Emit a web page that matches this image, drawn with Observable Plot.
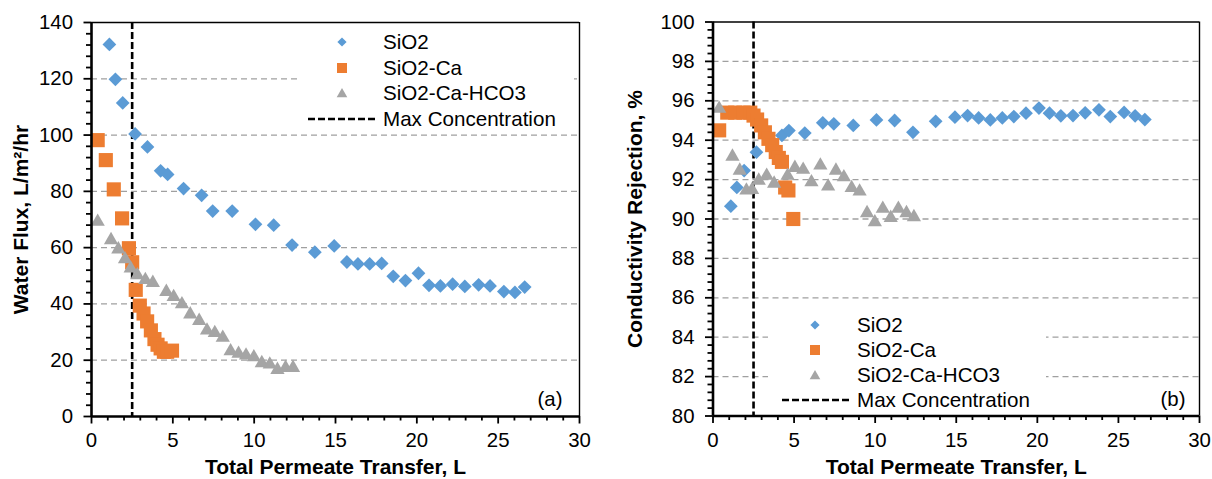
<!DOCTYPE html>
<html><head><meta charset="utf-8">
<script src="https://cdn.jsdelivr.net/npm/d3@7"></script>
<script src="https://cdn.jsdelivr.net/npm/@observablehq/plot@0.6"></script>
<style>
body{margin:0;background:#fff;font-family:"Liberation Sans",Arial,sans-serif;}
#wrap{position:relative;width:1212px;height:479px;overflow:hidden;background:#fff;}
.panel{position:absolute;top:0;}
.legend{position:absolute;background:#fff;font-size:20.6px;color:#000;}
.legend .row{position:absolute;height:26px;line-height:26px;white-space:nowrap;}
.legend svg{position:absolute;overflow:visible;}
</style></head><body><div id="wrap"></div>
<script>
// ---- data ----
const seriesNames = ["SiO2", "SiO2-Ca", "SiO2-Ca-HCO3"];
const seriesColors = ["#5B9BD5", "#ED7D31", "#A5A5A5"];
const lineName = "Max Concentration";
const maxConcentration = 2.5;

const xSiO2 = [1.1, 1.47, 1.92, 2.68, 3.44, 4.25, 4.68, 5.66, 6.77, 7.45, 8.65, 10.08, 11.2, 12.33, 13.73, 14.92, 15.7, 16.38, 17.1, 17.84, 18.55, 19.3, 20.1, 20.75, 21.45, 22.2, 22.95, 23.8, 24.5, 25.35, 26.03, 26.63];
const fluxSiO2 = [132.2, 119.8, 111.4, 100.4, 95.8, 87.3, 86.0, 81.0, 78.6, 73.0, 73.0, 68.3, 68.0, 60.9, 58.4, 60.6, 54.9, 54.2, 54.2, 54.4, 49.8, 48.3, 50.9, 46.6, 46.4, 47.0, 46.2, 46.8, 46.4, 44.4, 44.1, 46.0];
const rejSiO2 = [90.65, 91.6, 92.46, 93.39, 94.0, 94.24, 94.49, 94.36, 94.88, 94.83, 94.75, 95.03, 95.0, 94.4, 94.96, 95.17, 95.25, 95.13, 95.03, 95.13, 95.2, 95.37, 95.63, 95.37, 95.24, 95.25, 95.39, 95.54, 95.2, 95.41, 95.24, 95.05];

const xCa = [0.38, 0.88, 1.37, 1.88, 2.3, 2.5, 2.72, 2.97, 3.2, 3.42, 3.65, 3.87, 4.06, 4.25, 4.45, 4.65, 4.95];
const fluxCa = [98.2, 91.1, 80.7, 70.4, 59.8, 54.8, 45.0, 39.4, 36.6, 33.8, 30.6, 27.5, 25.5, 24.2, 23.0, 23.0, 23.4];
const rejCa = [94.5, 95.4, 95.4, 95.4, 95.4, 95.25, 95.05, 94.75, 94.4, 94.07, 93.75, 93.4, 93.1, 92.9, 91.6, 91.45, 90.0];

const xHCO3 = [0.38, 1.2, 1.65, 2.06, 2.41, 2.82, 3.31, 3.77, 4.6, 5.05, 5.56, 6.07, 6.62, 7.1, 7.58, 8.07, 8.55, 9.04, 9.5, 9.98, 10.47, 10.96, 11.43, 11.93, 12.39];
const fluxHCO3 = [69.2, 62.7, 59.4, 55.9, 52.6, 50.2, 48.5, 47.5, 44.3, 42.5, 39.9, 36.3, 34.0, 30.6, 29.7, 28.0, 23.2, 22.3, 21.7, 21.1, 19.0, 18.5, 16.6, 17.3, 17.3];
const rejHCO3 = [95.6, 93.17, 92.46, 91.45, 91.48, 91.95, 92.2, 91.8, 92.2, 92.6, 92.5, 91.87, 92.72, 91.65, 92.46, 92.12, 91.58, 91.4, 90.3, 89.84, 90.52, 90.06, 90.52, 90.3, 90.1];

const xTicks = [0, 5, 10, 15, 20, 25, 30];
const fluxTicks = [0, 20, 40, 60, 80, 100, 120, 140];
const rejTicks = [80, 82, 84, 86, 88, 90, 92, 94, 96, 98, 100];
const xTitle = "Total Permeate Transfer, L";
const fluxTitle = "Water Flux, L/m²/hr";
const rejTitle = "Conductivity Rejection, %";

// ---- build ----
const symbols = ["diamond2", "square2", "triangle2"];
const radii = [6.2, 9.0, 6.8];
const xs = [xSiO2, xCa, xHCO3];

function rows(ys) {
  return ys.map((arr, s) => arr.map((v, i) => ({x: xs[s][i], y: v, s}))).flat();
}

function panel(o) {
  const [y0, y1] = o.yDomain;
  const yMinor = d3.range(y0, y1 + 1e-9, o.yMinorStep).filter(v => !o.yTicks.some(t => Math.abs(t - v) < 1e-9));
  const xMinor = d3.range(0, 31, 1).filter(v => v % 5 !== 0);
  const data = rows(o.ys);
  const dots = [0, 1, 2].map(s => Plot.dot(data.filter(d => d.s === s), {
    x: "x", y: "y", symbol: () => symbols[s], r: radii[s], fill: seriesColors[s], stroke: "none"
  }));
  const ax = {stroke: "#000", strokeWidth: 1.8};
  return Plot.plot({
    width: 606, height: 479,
    marginLeft: o.m[0], marginRight: o.m[1], marginTop: o.m[2], marginBottom: o.m[3],
    x: {domain: [0, 30], label: null},
    y: {domain: o.yDomain, label: null},
    symbol: {type: "identity"},
    style: {fontFamily: "'Liberation Sans', Arial, sans-serif", fontSize: "20px", color: "#000", background: "transparent", overflow: "visible"},
    marks: [
      Plot.gridY(o.yGrid, {stroke: "#a0a0a0", strokeOpacity: 1, strokeWidth: 1.3, strokeDasharray: "6,4"}),
      Plot.ruleX([30], {stroke: "#000", strokeWidth: 1.4}),
      Plot.ruleY([y1], {stroke: "#000", strokeWidth: 1.4}),
      Plot.ruleX([maxConcentration], {stroke: "#000", strokeWidth: 2.6, strokeDasharray: "7,3"}),
      ...dots,
      Plot.axisX({ticks: xMinor, tickSize: 4.5, tickFormat: () => "", ...ax}),
      Plot.axisX({ticks: xTicks, tickSize: 7.5, tickPadding: 9, fontSize: 20.4, ...ax}),
      Plot.axisY({ticks: yMinor, tickSize: 5, tickFormat: () => "", ...ax}),
      Plot.axisY({ticks: o.yTicks, tickSize: 7.5, tickPadding: 11, fontSize: 20.4, tickFormat: d3.format("d"), ...ax}),
      Plot.ruleX([0], {stroke: "#000", strokeWidth: 2.6}),
      Plot.ruleY([y0], {stroke: "#000", strokeWidth: 2.6}),
      Plot.text([xTitle], {text: d => d, frameAnchor: "bottom", dy: 51, textAnchor: "middle", lineAnchor: "middle", fontWeight: "bold", fontSize: 21}),
      Plot.text([o.yTitle], {text: d => d, frameAnchor: "left", rotate: -90, dx: o.yTitleDx, textAnchor: "middle", lineAnchor: "middle", fontWeight: "bold", fontSize: 21}),
      Plot.text([o.tag], {text: d => d, frameAnchor: "bottom-right", dx: o.tagDx, dy: -17, textAnchor: "end", lineAnchor: "middle", fontSize: 20.4})
    ]
  });
}

function legend(box) {
  const div = document.createElement("div");
  div.className = "legend";
  Object.assign(div.style, {left: box.left + "px", top: box.top + "px", width: box.w + "px", height: box.h + "px"});
  const shapes = [
    c => `<polygon points="0,-4.6 4.6,0 0,4.6 -4.6,0" fill="${c}"/>`,
    c => `<rect x="-5" y="-5" width="10" height="10" fill="${c}"/>`,
    c => `<polygon points="0,-5 5.3,4.3 -5.3,4.3" fill="${c}"/>`
  ];
  seriesNames.forEach((name, i) => {
    const cy = box.rows[i];
    div.insertAdjacentHTML("beforeend",
      `<svg width="1" height="1" style="left:${box.sym}px;top:${cy}px">${shapes[i](seriesColors[i])}</svg>` +
      `<div class="row" style="left:${box.text}px;top:${cy - 13}px">${name}</div>`);
  });
  const cy = box.rows[3];
  div.insertAdjacentHTML("beforeend",
    `<svg width="1" height="1" style="left:0;top:${cy}px"><line x1="${box.dash[0]}" x2="${box.dash[1]}" y1="0" y2="0" stroke="#000" stroke-width="2.4" stroke-dasharray="7,3"/></svg>` +
    `<div class="row" style="left:${box.text}px;top:${cy - 13}px">${lineName}</div>`);
  return div;
}

const wrap = document.getElementById("wrap");
const left = panel({
  ys: [fluxSiO2, fluxCa, fluxHCO3], yDomain: [0, 140], yTicks: fluxTicks, yMinorStep: 4,
  yGrid: fluxTicks.slice(1, -1), m: [91, 27, 22, 63], yTitle: fluxTitle, yTitleDx: -70, tag: "(a)", tagDx: -17
});
left.classList.add("panel"); left.style.left = "0px";
const right = panel({
  ys: [rejSiO2, rejCa, rejHCO3], yDomain: [80, 100], yTicks: rejTicks, yMinorStep: 0.4,
  yGrid: rejTicks.slice(1, -1), m: [106.5, 13, 21.5, 63.5], yTitle: rejTitle, yTitleDx: -77.5, tag: "(b)", tagDx: -14
});
right.classList.add("panel"); right.style.left = "606px";
wrap.appendChild(left);
wrap.appendChild(right);
wrap.appendChild(legend({left: 297, top: 23.5, w: 277, h: 104, sym: 45, text: 86, rows: [18.5, 44, 69.5, 95], dash: [11, 80]}));
wrap.appendChild(legend({left: 768, top: 306, w: 278, h: 106, sym: 47, text: 89, rows: [19, 44, 69, 93.5], dash: [14, 82]}));
</script></body></html>
